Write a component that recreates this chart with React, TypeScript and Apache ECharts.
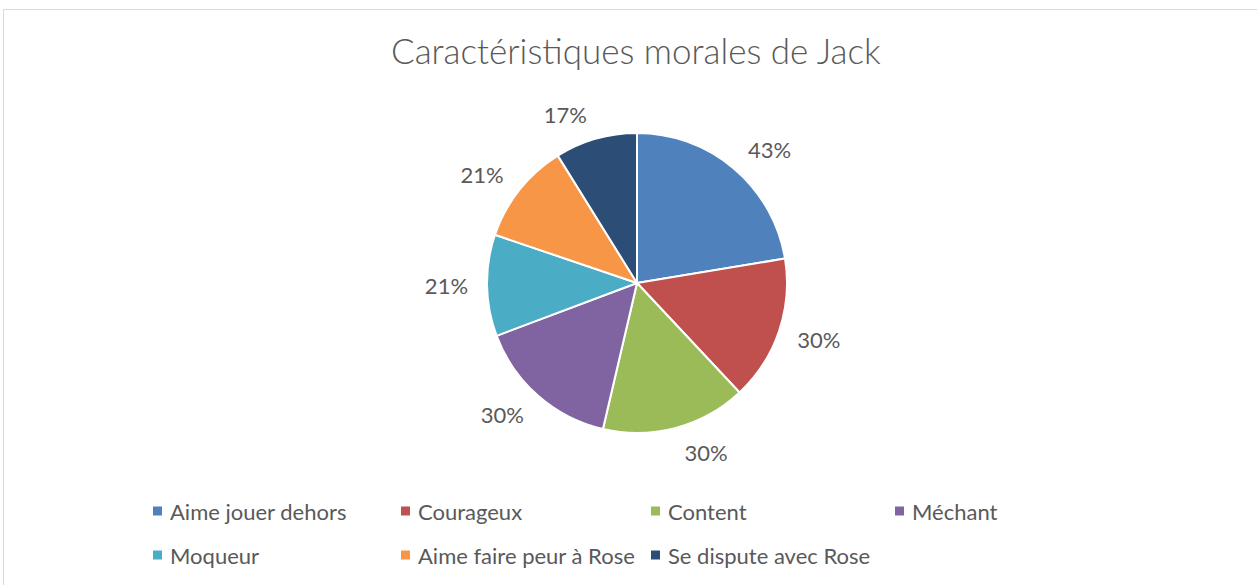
import React, { useEffect, useRef } from "react";
import * as echarts from "echarts";

const categories = [
  "Aime jouer dehors",
  "Courageux",
  "Content",
  "Méchant",
  "Moqueur",
  "Aime faire peur à Rose",
  "Se dispute avec Rose",
];
const values = [43, 30, 30, 30, 21, 21, 17];
const colors = ["#4F81BD", "#C0504D", "#9BBB59", "#8064A2", "#4BACC6", "#F79646", "#2C4D75"];
const titleText = "Caractéristiques morales de Jack";
// legend columns (Excel lays the legend out in a grid of 4 columns)
const legendColumns = [
  [categories[0], categories[4]],
  [categories[1], categories[5]],
  [categories[2], categories[6]],
  [categories[3]],
];
const legendColumnLefts = [153, 401, 651, 895];

export default function App() {
  const ref = useRef<HTMLDivElement>(null);
  useEffect(() => {
    if (!ref.current) return;
    const chart = echarts.init(ref.current, undefined, { renderer: "svg" });
    chart.setOption({
      animation: false,
      backgroundColor: "#ffffff",
      color: colors,
      title: {
        text: titleText,
        left: 391,
        top: 32,
        padding: 0,
        textStyle: {
          fontFamily: "Lato",
          fontWeight: 300,
          fontSize: 35,
          color: "#595959",
        },
      },
      graphic: [
        {
          type: "rect",
          shape: { x: 3.5, y: 9.5, width: 1400, height: 800 },
          style: { fill: "none", stroke: "#d9d9d9", lineWidth: 1 },
          silent: true,
        },
      ],
      legend: legendColumns.map((col, i) => ({
        data: col,
        left: legendColumnLefts[i],
        top: 499,
        padding: 0,
        orient: "vertical",
        itemWidth: 9,
        itemHeight: 9,
        itemGap: 20,
        icon: "rect",
        itemStyle: { borderWidth: 0 },
        textStyle: {
          fontFamily: "Lato",
          fontSize: 22,
          lineHeight: 24,
          color: "#595959",
          padding: [0, 0, 0, 3],
        },
      })),
      series: [
        {
          type: "pie",
          center: [637, 283],
          radius: 150,
          startAngle: 90,
          clockwise: true,
          avoidLabelOverlap: false,
          data: categories.map((n, i) => ({ name: n, value: values[i] })),
          itemStyle: { borderColor: "#ffffff", borderWidth: 2 },
          label: {
            show: true,
            position: "outside",
            formatter: (p: any) => p.value + "%",
            fontFamily: "Lato",
            fontSize: 22,
            color: "#595959",
            alignTo: "none",
          },
          labelLine: { show: false, length: 14, length2: 0 },
          labelLayout: (params: any) => {
            const pts = params.labelLinePoints;
            const r = params.labelRect;
            let dirY = 0;
            if (pts && pts.length >= 2) {
              const dx = pts[1][0] - pts[0][0];
              const dy = pts[1][1] - pts[0][1];
              const len = Math.sqrt(dx * dx + dy * dy) || 1;
              dirY = dy / len;
            } else if (r) {
              const cy = r.y + r.height / 2 - 283;
              const cx = r.x + r.width / 2 - 637;
              const len = Math.sqrt(cx * cx + cy * cy) || 1;
              dirY = cy / len;
            }
            return { dy: dirY * (r ? r.height / 2 : 10) };
          },
          emphasis: { disabled: true },
        },
      ],
    });
    return () => chart.dispose();
  }, []);
  return (
    <div
      ref={ref}
      style={{ position: "absolute", left: 0, top: 0, width: 1257, height: 585 }}
    />
  );
}
